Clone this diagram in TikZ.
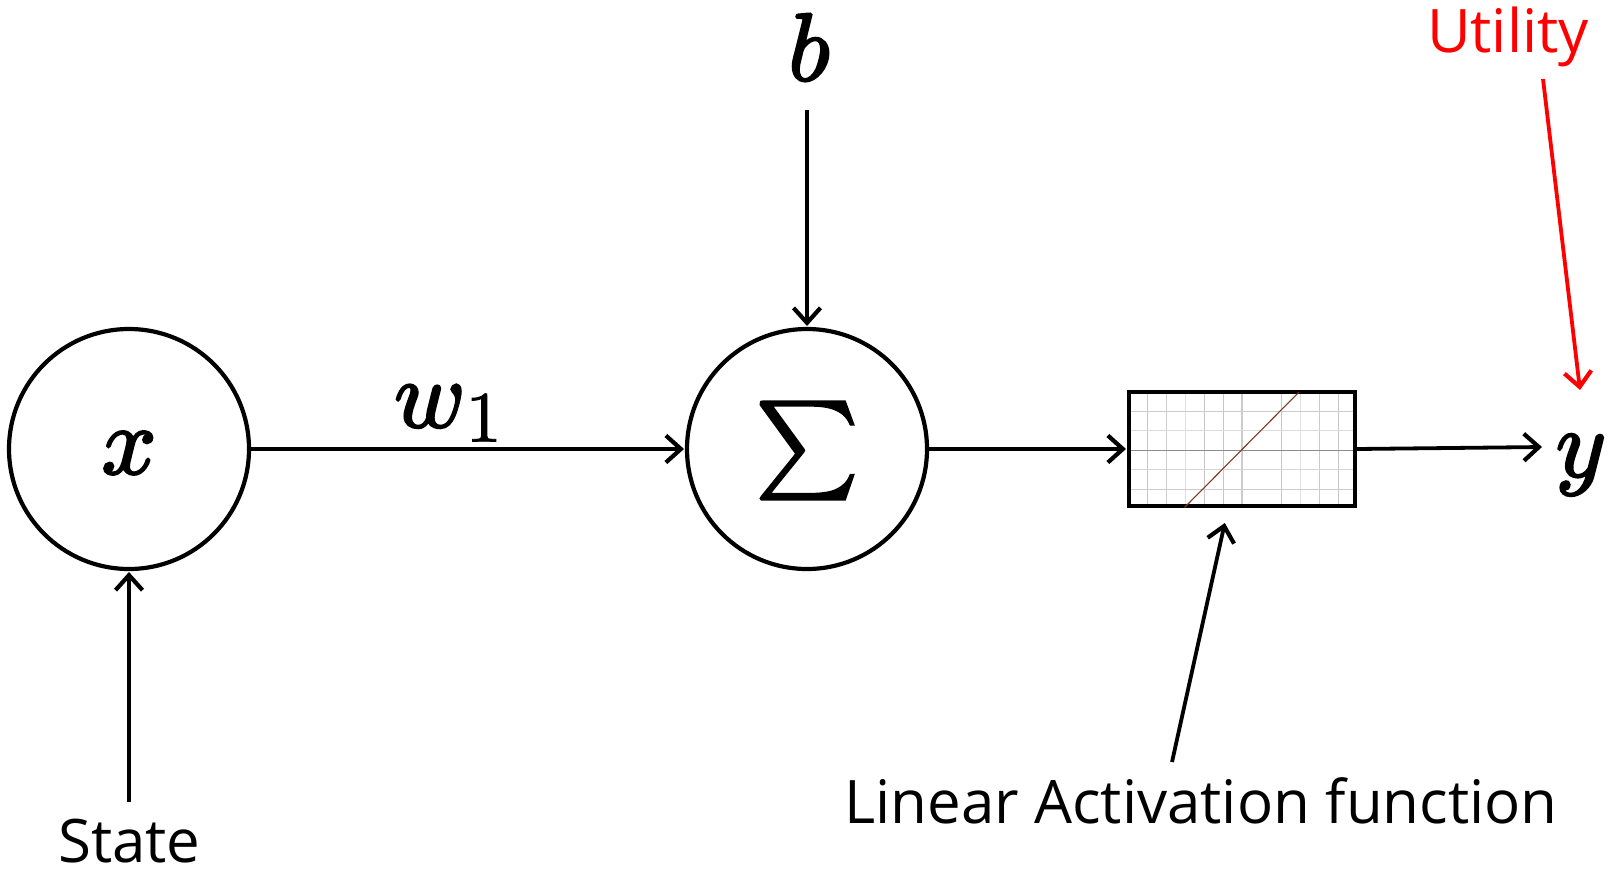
\documentclass[tikz,border=0pt]{standalone}
\usepackage{graphicx}
\usepackage{fontspec}
\setmainfont{Open Sans}
\usetikzlibrary{arrows.meta}
\newcommand{\heavy}[1]{\special{pdf:code q 2 Tr 0.25 w}#1\special{pdf:code Q}}
\newcommand{\lightheavy}[1]{\special{pdf:code q 2 Tr 0.12 w}#1\special{pdf:code Q}}
\newcommand{\bigmath}[1]{\scalebox{9.6}{\heavy{$#1$}}}
\tikzset{
  px/.style={x=1pt,y=-1pt},
  neuron/.style={circle,draw=black,line width=4.2pt,minimum size=240pt,inner sep=0pt,outer sep=0pt,fill=white},
  conn/.style={draw=black,line width=3.8pt,-{Straight Barb[length=15pt,width=27pt,line width=4.2pt]},shorten >=1pt},
  redconn/.style={draw=red,line width=3.8pt,-{Straight Barb[length=15pt,width=27pt,line width=4.2pt]}},
  mathlabel/.style={inner sep=0pt},
  textlabel/.style={inner sep=0pt,font=\fontsize{60}{60}\selectfont,anchor=base},
}
\begin{document}
\begin{tikzpicture}[px]
\useasboundingbox (0,0) rectangle (1613,870);
\node[neuron] (xn) at (129,449) {};
\node[mathlabel] at (129,453) {\bigmath{x}};
\node[neuron] (sn) at (807,449) {};
\node[mathlabel] at (807,450.5) {\scalebox{1.02}{\bigmath{\textstyle\sum}}};
% activation box
\foreach \x/\g in {1147.3/22,1166.3/20,1185.3/12,1204.3/22,1223.3/22,1281.6/22,1300.7/12,1319.7/20,1338.7/22}
  \draw[black!\g,line width=1pt] (\x,392) -- (\x,506);
\draw[black!20,line width=2pt] (1242,392) -- (1242,506);
\foreach \y/\g in {411.3/20,430.7/14,469.7/16,489.3/20}
  \draw[black!\g,line width=1.2pt] (1129,\y) -- (1355,\y);
\draw[black!45,line width=.8pt] (1129,450) -- (1355,450);
\node[draw=black,line width=4pt,minimum width=226pt,minimum height=114pt,inner sep=0pt,outer sep=0pt,anchor=north west] (act) at (1129,392) {};
\draw[color={rgb,255:red,125;green,55;blue,35},line width=1.1pt] (1184.5,507.5) -- (1299,392);
% labels
\node[mathlabel] (bn) at (809,47) {\bigmath{b}};
\node[mathlabel,anchor=base west] (wn) at (394,427) {\bigmath{w}};
\node[mathlabel,anchor=base west] (wsub) at (465.5,441.5) {\scalebox{7.2}{\lightheavy{$1$}}};
\node[mathlabel] (yn) at (1581,465) {\bigmath{y}};
\node[textlabel] (state) at (129.5,862) {State};
\node[textlabel] (lin) at (1201,823) {Linear Activation function};
\node[textlabel,text=red] (util) at (1508,52) {Utility};
% free ends
\coordinate (binput) at (807,110);
\coordinate (sinput) at (129,802);
\coordinate (linput) at (1172,762);
\coordinate (lend) at (1225,522);
\coordinate (uinput) at (1543,79);
\coordinate (uend) at (1580,390);
\coordinate (yend) at (1543,447);
\coordinate (actout) at (1357,449);
% connectors
\draw[conn,shorten >=3pt] (xn.east) -- (sn.west);
\draw[conn,shorten >=3pt] (binput) -- (sn.north);
\draw[conn,shorten >=3pt] (sinput) -- (xn.south);
\draw[conn,shorten >=3pt] (sn.east) -- (act.west);
\draw[conn] (actout) -- (yend);
\draw[conn] (linput) -- (lend);
\draw[redconn] (uinput) -- (uend);
\end{tikzpicture}
\end{document}
